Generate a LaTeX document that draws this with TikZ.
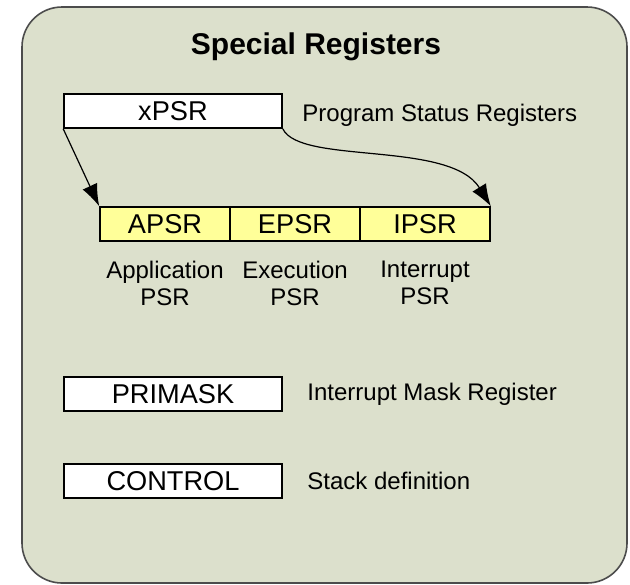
\documentclass[tikz,border=0pt]{standalone}
\usepackage{fontspec}
\setmainfont{Liberation Sans}
\usetikzlibrary{arrows.meta}
\definecolor{panel}{RGB}{220,224,204}
\definecolor{regyellow}{RGB}{255,255,153}

\begin{document}
\begin{tikzpicture}[x=0.5pt,y=-0.5pt,
    link/.style={semithick,-{Latex[length=11pt,width=8pt]}},
    reg/.style={draw,thick,fill=white,minimum width=109pt,minimum height=17pt,inner sep=0pt,font=\fontsize{13.6}{15}\selectfont},
    psr/.style={draw,thick,fill=regyellow,minimum width=65pt,minimum height=17pt,inner sep=0pt,font=\fontsize{13.6}{15}\selectfont},
    desc/.style={anchor=west,inner sep=0pt,font=\fontsize{12}{14}\selectfont},
    sub/.style={align=center,inner sep=0pt,font=\fontsize{12}{13.5}\selectfont}]
            \useasboundingbox (0,0) rectangle (630,584);
            \draw[fill=panel,draw=black!70,thick,rounded corners=20pt] (22,7) rectangle (627,583);

            \node[font=\fontsize{15}{17}\bfseries\selectfont] (title) at (316,47) {Special Registers};

            \node[reg] (xpsr) at (173,111) {xPSR};
            \node[desc] (xpsrtxt) at (302,115) {Program Status Registers};

            \node[psr] (apsr) at (165,224) {APSR};
            \node[psr] (epsr) at (295,224) {EPSR};
            \node[psr] (ipsr) at (425,224) {IPSR};

            \node[sub] (apsrtxt) at (165,283) {Application\\PSR};
            \node[sub] (epsrtxt) at (295,283) {Execution\\PSR};
            \node[sub] (ipsrtxt) at (425,283) {Interrupt\\PSR};

            \node[reg] (primask) at (173,394) {PRIMASK};
            \node[desc] (primasktxt) at (307,394) {Interrupt Mask Register};

            \node[reg] (control) at (173,481) {CONTROL};
            \node[desc] (controltxt) at (307,481) {Stack definition};

            \draw[link] (xpsr.south west) -- (apsr.north west);
            \draw[link] (xpsr.south east) .. controls (300,165) and (450,140) .. (ipsr.north east);
        \end{tikzpicture}
\end{document}
